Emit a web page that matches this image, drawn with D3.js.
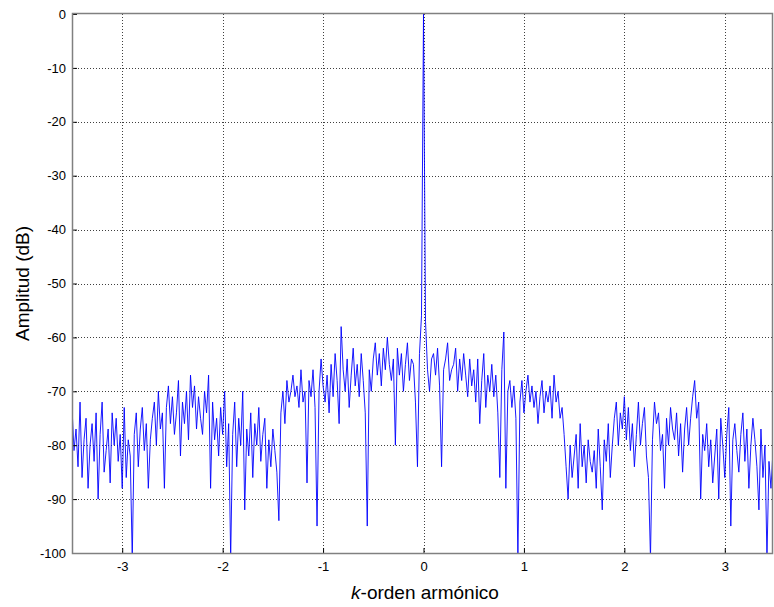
<!DOCTYPE html>
<html>
<head>
<meta charset="utf-8">
<script src="https://cdn.jsdelivr.net/npm/d3@7"></script>
<style>
  html, body { margin: 0; padding: 0; background: #fff; }
  svg { display: block; font-family: Arial, "Liberation Sans", sans-serif; }
</style>
</head>
<body>
<svg id="chart" width="774" height="607"></svg>
<script>
// Harmonic order axis: -3.5 .. 3.5 in steps of 0.02
const xStart = -3.5;
const xStep = 0.02;

// Amplitude spectrum (dB), one value per step
const amplitudeDb = [
  -73,-81,-77,-84,-72,-86,-79,-75,-88,-80,
  -76,-83,-74,-90,-78,-72,-85,-81,-77,-87,
  -74,-80,-75,-83,-78,-88,-73,-86,-79,-82,
  -101,-78,-74,-84,-77,-73,-81,-76,-88,-79,
  -75,-72,-80,-70,-77,-74,-88,-73,-69,-76,
  -71,-78,-74,-68,-82,-72,-76,-70,-79,-67,
  -73,-69,-77,-71,-75,-78,-70,-74,-67,-88,
  -72,-79,-75,-82,-73,-78,-70,-84,-76,-101,
  -78,-72,-84,-75,-80,-70,-92,-77,-82,-74,
  -86,-76,-80,-73,-83,-78,-75,-88,-79,-84,
  -77,-81,-85,-94,-74,-70,-76,-68,-72,-70,
  -67,-71,-69,-73,-66,-72,-70,-87,-68,-71,
  -66,-73,-95,-70,-64,-69,-72,-67,-74,-65,
  -71,-63,-68,-76,-58,-66,-70,-64,-73,-67,
  -62,-69,-65,-71,-63,-68,-74,-95,-66,-70,
  -64,-61,-67,-63,-69,-62,-66,-60,-65,-68,
  -64,-80,-62,-67,-63,-70,-65,-61,-68,-64,
  -65,-72,-84,-63,-56,0,-57,-66,-70,-64,
  -63,-67,-62,-69,-84,-66,-64,-61,-68,-66,
  -65,-62,-70,-64,-68,-63,-67,-71,-64,-69,
  -66,-72,-64,-76,-68,-63,-73,-67,-70,-65,
  -71,-67,-74,-86,-66,-59,-88,-70,-68,-73,
  -69,-75,-101,-72,-68,-74,-70,-67,-72,-69,
  -73,-70,-76,-71,-68,-74,-70,-72,-69,-75,
  -67,-72,-70,-75,-73,-78,-84,-90,-80,-86,
  -82,-78,-88,-76,-84,-80,-87,-79,-83,-85,
  -81,-88,-77,-84,-92,-79,-83,-76,-86,-80,
  -75,-72,-80,-74,-77,-71,-79,-73,-81,-76,
  -84,-78,-72,-80,-76,-73,-82,-86,-101,-79,
  -72,-76,-74,-81,-78,-88,-75,-80,-73,-77,
  -79,-74,-82,-76,-85,-77,-73,-80,-75,-71,
  -68,-75,-72,-90,-78,-81,-76,-84,-79,-87,
  -82,-77,-90,-75,-80,-86,-78,-73,-95,-79,
  -76,-81,-85,-78,-74,-83,-77,-88,-80,-75,
  -79,-84,-92,-77,-86,-80,-101,-83,-88,-81,
  -86
];

const xTicks = [-3, -2, -1, 0, 1, 2, 3];
const yTicks = [0, -10, -20, -30, -40, -50, -60, -70, -80, -90, -100];
const xLabelItalic = "k";
const xLabelRest = "-orden armónico";
const yLabel = "Amplitud (dB)";

const data = amplitudeDb.map((v, i) => ({ k: xStart + i * xStep, db: v }));

const svg = d3.select("#chart");
const plot = { left: 72, top: 14, right: 773, bottom: 553 };

const x = d3.scaleLinear().domain([-3.5, 3.5]).range([plot.left, plot.left + 703]);
const y = d3.scaleLinear().domain([-100, 0]).range([plot.bottom, plot.top]);

// dotted grid
const grid = svg.append("g").attr("stroke", "#000").attr("stroke-width", 1)
  .attr("stroke-dasharray", "1,2").attr("opacity", 0.75);
grid.selectAll("line.gx").data(xTicks).join("line")
  .attr("x1", d => Math.round(x(d)) + 0.5).attr("x2", d => Math.round(x(d)) + 0.5)
  .attr("y1", plot.top).attr("y2", plot.bottom);
grid.selectAll("line.gy").data(yTicks.filter(d => d > -100 && d < 0)).join("line")
  .attr("x1", plot.left).attr("x2", plot.right)
  .attr("y1", d => Math.round(y(d)) + 0.5).attr("y2", d => Math.round(y(d)) + 0.5);

// spectrum trace
svg.append("clipPath").attr("id", "clip").append("rect")
  .attr("x", plot.left).attr("y", plot.top)
  .attr("width", plot.right - plot.left).attr("height", plot.bottom - plot.top);

const line = d3.line().x(d => x(d.k)).y(d => y(d.db));
svg.append("path").datum(data)
  .attr("clip-path", "url(#clip)")
  .attr("fill", "none").attr("stroke", "#0000ff").attr("stroke-width", 0.9)
  .attr("stroke-linejoin", "miter")
  .attr("d", line);

// axes
const xAxis = d3.axisBottom(x).tickValues(xTicks).tickSize(-5).tickPadding(9)
  .tickFormat(d3.format("d"));
const yAxis = d3.axisLeft(y).tickValues(yTicks).tickSize(-5).tickPadding(6)
  .tickFormat(d3.format("d"));

const gx = svg.append("g").attr("transform", `translate(0,${plot.bottom})`).call(xAxis);
const gy = svg.append("g").attr("transform", `translate(${plot.left},0)`).call(yAxis);
[gx, gy].forEach(g => {
  g.select(".domain").remove();
  g.selectAll(".tick line").attr("stroke", "#000");
  g.selectAll(".tick text").attr("font-size", 13).attr("fill", "#000")
    .attr("font-family", "Arial, 'Liberation Sans', sans-serif");
});
// plain hyphen for negative labels
gx.selectAll(".tick text").text(d => String(d));
gy.selectAll(".tick text").text(d => String(d));

// box
svg.append("rect").attr("x", plot.left + 0.5).attr("y", plot.top - 0.5)
  .attr("width", plot.right - plot.left - 1).attr("height", plot.bottom - plot.top + 1)
  .attr("fill", "none").attr("stroke", "#808080").attr("stroke-width", 1.5);

// labels
const xl = svg.append("text").attr("x", 425).attr("y", 599)
  .attr("text-anchor", "middle").attr("font-size", 19).attr("fill", "#000");
xl.append("tspan").attr("font-style", "italic").text(xLabelItalic);
xl.append("tspan").text(xLabelRest);

svg.append("text").attr("transform", `translate(29,${(plot.top + plot.bottom) / 2}) rotate(-90)`)
  .attr("text-anchor", "middle").attr("font-size", 19).attr("fill", "#000")
  .text(yLabel);
</script>
</body>
</html>
